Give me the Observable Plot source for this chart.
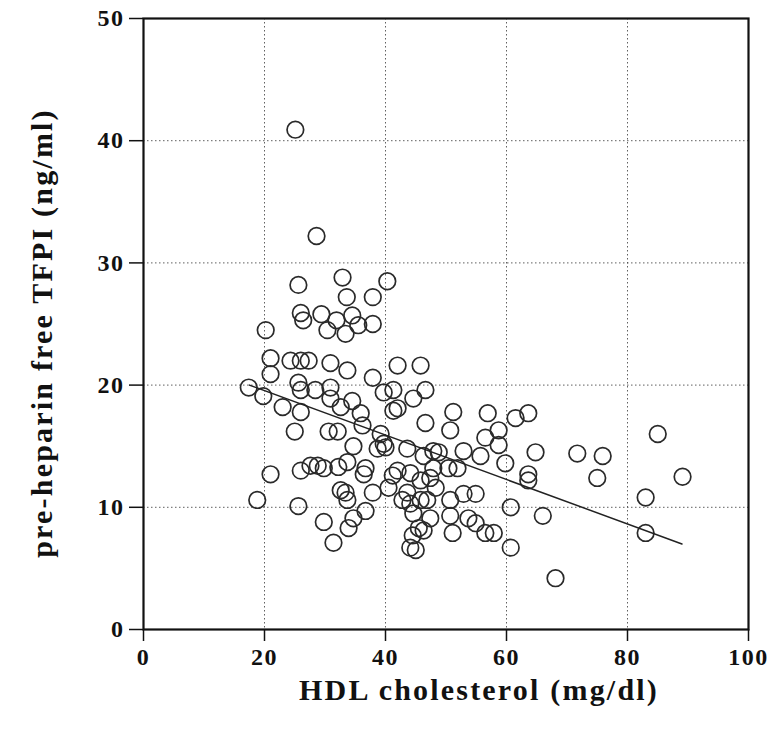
<!DOCTYPE html>
<html>
<head>
<meta charset="utf-8">
<script src="https://cdn.jsdelivr.net/npm/d3@7"></script>
<script src="https://cdn.jsdelivr.net/npm/@observablehq/plot@0.6"></script>
<style>
  html, body { margin: 0; padding: 0; background: #fff; }
  #chart { width: 772px; height: 735px; }
  #chart g[aria-label="x-axis tick label"] text,
  #chart g[aria-label="y-axis tick label"] text { letter-spacing: 1.5px; }
  #chart g[aria-label="text"] text { letter-spacing: 2.2px; }
</style>
</head>
<body>
<div id="chart"></div>
<script>
// HDL cholesterol (mg/dl)
const hdl = [
  25.1, 28.6, 32.9, 25.6, 40.3, 33.6, 37.9, 26.0, 26.4, 29.4,
  31.9, 34.5, 35.5, 37.9, 30.4, 33.4, 20.2, 21.0, 24.3, 26.0,
  27.3, 30.9, 33.7, 37.9, 42.0, 45.8, 21.0, 17.4, 19.8, 25.6,
  26.0, 28.4, 30.9, 30.9, 23.0, 26.0, 34.5, 35.9, 39.7, 41.3,
  44.6, 42.0, 46.6, 25.0, 30.6, 32.1, 34.7, 46.6, 39.2, 39.7,
  32.6, 41.3, 36.2, 38.7, 40.0, 43.6, 46.3, 47.9, 33.7, 32.2,
  36.7, 36.4, 41.2, 42.0, 44.1, 45.8, 47.4, 48.3, 40.5, 33.4,
  32.6, 33.7, 37.9, 36.7, 34.7, 33.9, 31.4, 44.1, 45.0, 21.0,
  18.8, 26.0, 27.6, 28.8, 29.8, 25.6, 29.8, 42.8, 44.1, 45.8,
  46.9, 44.6, 45.5, 44.5, 47.4, 51.2, 50.7, 56.9, 56.5, 58.7,
  58.7, 52.9, 55.7, 59.8, 61.5, 63.6, 64.8, 63.6, 63.6, 71.7,
  75.9, 75.0, 60.7, 66.0, 60.7, 68.1, 48.8, 47.9, 50.4, 51.9,
  52.9, 54.9, 50.7, 50.7, 53.7, 54.9, 56.5, 57.9, 51.1, 46.3,
  85.0, 89.1, 83.0, 83.0, 43.6
];
// pre-heparin free TFPI (ng/ml)
const tfpi = [
  40.9, 32.2, 28.8, 28.2, 28.5, 27.2, 27.2, 25.9, 25.3, 25.8,
  25.3, 25.7, 24.9, 25.0, 24.5, 24.2, 24.5, 22.2, 22.0, 22.0,
  22.0, 21.8, 21.2, 20.6, 21.6, 21.6, 20.9, 19.8, 19.1, 20.2,
  19.6, 19.6, 19.8, 18.9, 18.2, 17.8, 18.7, 17.7, 19.4, 19.6,
  18.9, 18.1, 19.6, 16.2, 16.2, 16.2, 15.0, 16.9, 16.0, 15.2,
  18.2, 17.9, 16.7, 14.8, 14.9, 14.8, 14.2, 14.6, 13.7, 13.3,
  13.2, 12.7, 12.6, 13.0, 12.8, 12.2, 12.4, 11.6, 11.6, 11.2,
  11.4, 10.6, 11.2,  9.7,  9.1,  8.3,  7.1,  6.7,  6.5, 12.7,
  10.6, 13.0, 13.4, 13.4, 13.2, 10.1,  8.8, 10.6, 10.3, 10.6,
  10.6,  9.5,  8.3,  7.7,  9.1, 17.8, 16.3, 17.7, 15.7, 16.3,
  15.1, 14.6, 14.2, 13.6, 17.3, 17.7, 14.5, 12.7, 12.2, 14.4,
  14.2, 12.4, 10.0,  9.3,  6.7,  4.2, 14.5, 13.2, 13.2, 13.2,
  11.1, 11.1, 10.6,  9.3,  9.1,  8.7,  7.9,  7.9,  7.9,  8.1,
  16.0, 12.5, 10.8,  7.9, 11.2
];
// regression line end points
const fitX = [17.5, 89];
const fitY = [20.0, 7.0];

const xTicks = [0, 20, 40, 60, 80, 100];
const yTicks = [0, 10, 20, 30, 40, 50];
const xGrid = [20, 40, 60, 80];
const yGrid = [10, 20, 30, 40];
const xTitle = "HDL cholesterol (mg/dl)";
const yTitle = "pre-heparin free TFPI (ng/ml)";

const points = hdl.map((h, i) => ({hdl: h, tfpi: tfpi[i]}));
const fit = fitX.map((x, i) => ({x, y: fitY[i]}));

const chart = Plot.plot({
  width: 772,
  height: 735,
  marginLeft: 143,
  marginRight: 24,
  marginTop: 18,
  marginBottom: 106,
  style: {fontFamily: "'Liberation Serif', 'Times New Roman', serif", fontSize: "24px", fontWeight: "bold", color: "#111", background: "#fff"},
  x: {domain: [0, 100]},
  y: {domain: [0, 50]},
  marks: [
    Plot.gridX(xGrid, {stroke: "#444", strokeOpacity: 0.85, strokeDasharray: "1.5,2.5", strokeWidth: 1}),
    Plot.gridY(yGrid, {stroke: "#444", strokeOpacity: 0.85, strokeDasharray: "1.5,2.5", strokeWidth: 1}),
    Plot.axisX({ticks: xTicks, tickSize: 12, tickPadding: 6, label: null, stroke: "#111", strokeWidth: 1.5, fontSize: 24, fontWeight: "bold"}),
    Plot.axisY({ticks: yTicks, tickSize: 14, tickPadding: 5, label: null, stroke: "#111", strokeWidth: 1.5, fontSize: 24, fontWeight: "bold"}),
    Plot.frame({stroke: "#111", strokeWidth: 2.2}),
    Plot.dot(points, {x: "hdl", y: "tfpi", r: 8.3, stroke: "#2a2a2a", strokeWidth: 1.7, fill: "none"}),
    Plot.line(fit, {x: "x", y: "y", stroke: "#222", strokeWidth: 1.5}),
    Plot.text([xTitle], {frameAnchor: "bottom", dx: 33, dy: 61, lineAnchor: "middle", textAnchor: "middle", fontSize: 30, fontWeight: "bold", fill: "#111"}),
    Plot.text([yTitle], {frameAnchor: "left", dx: -101, dy: 9, rotate: -90, lineAnchor: "middle", textAnchor: "middle", fontSize: 30, fontWeight: "bold", fill: "#111"})
  ]
});
document.getElementById("chart").appendChild(chart);
</script>
</body>
</html>
